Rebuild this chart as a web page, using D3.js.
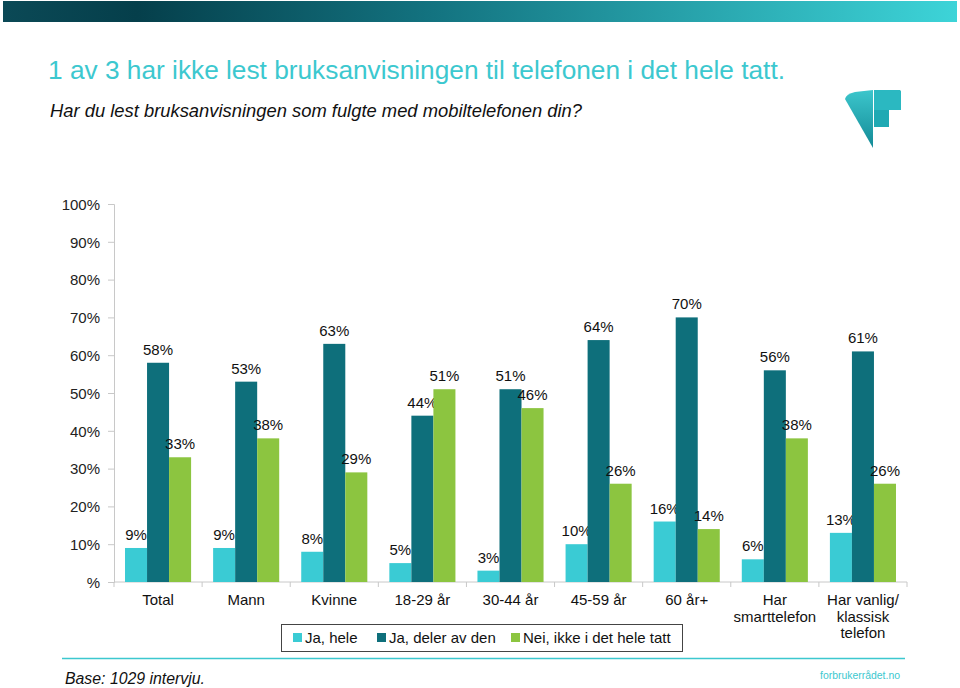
<!DOCTYPE html>
<html><head><meta charset="utf-8">
<script src="https://cdn.jsdelivr.net/npm/d3@7"></script>
<style>body{margin:0;background:#fff}svg{display:block}</style>
</head><body>
<svg id="c" width="960" height="688"></svg>
<script>
const categories = [["Total"],["Mann"],["Kvinne"],["18-29 år"],["30-44 år"],["45-59 år"],["60 år+"],["Har","smarttelefon"],["Har vanlig/","klassisk","telefon"]];
const seriesNames = ["Ja, hele","Ja, deler av den","Nei, ikke i det hele tatt"];
const jaHele = [9,9,8,5,3,10,16,6,13];
const jaDeler = [58,53,63,44,51,64,70,56,61];
const neiIkke = [33,38,29,51,46,26,14,38,26];
const yTicks = [0,10,20,30,40,50,60,70,80,90,100];
const colors = ["#3acbd4","#0e6f7b","#8cc540"];

const series = [jaHele, jaDeler, neiIkke];
const svg = d3.select("#c");
const font = "'Liberation Sans', Arial, sans-serif";

// banner
const defs = svg.append("defs");
const g1 = defs.append("linearGradient").attr("id","ban");
g1.append("stop").attr("offset","0%").attr("stop-color","#0b4956");
g1.append("stop").attr("offset","14%").attr("stop-color","#053f4b");
g1.append("stop").attr("offset","45%").attr("stop-color","#137380");
g1.append("stop").attr("offset","100%").attr("stop-color","#3dd4d8");
svg.append("rect").attr("x",3).attr("y",1).attr("width",954).attr("height",21).attr("fill","url(#ban)");

// title
svg.append("text").attr("x",48).attr("y",79).attr("font-family","'Liberation Sans Narrow', "+font)
  .attr("font-size",26).attr("fill","#3cc8cf").attr("textLength",737).attr("lengthAdjust","spacingAndGlyphs")
  .text("1 av 3 har ikke lest bruksanvisningen til telefonen i det hele tatt.");
svg.append("text").attr("x",50).attr("y",117).attr("font-family","'Liberation Sans Narrow', "+font)
  .attr("font-size",18).attr("font-style","italic").attr("fill","#111").attr("textLength",532).attr("lengthAdjust","spacingAndGlyphs")
  .text("Har du lest bruksanvisningen som fulgte med mobiltelefonen din?");

// logo
const g2 = defs.append("linearGradient").attr("id","logo").attr("x1","0").attr("y1","0").attr("x2","0").attr("y2","1");
g2.append("stop").attr("offset","0%").attr("stop-color","#3cc6cc");
g2.append("stop").attr("offset","100%").attr("stop-color","#138a96");
const lg = svg.append("g");
lg.append("path").attr("d","M845,99 Q846,94 855,92 L873,90 L873,148 Z").attr("fill","url(#logo)");
lg.append("path").attr("d","M874,90 L899,90 Q901,90 901,93 L901,110 L889,110 L889,127 L874,127 Z").attr("fill","#1fa9b3");
lg.append("path").attr("d","M874,90 L899,90 Q901,90 901,93 L901,110 L874,110 Z").attr("fill","#2bb8c1");

// chart
const x0 = 114, x1 = 907, yTop = 204, yBot = 582;
const x = d3.scaleBand().domain(d3.range(categories.length)).range([x0,x1]).paddingInner(0).paddingOuter(0);
const xs = d3.scaleBand().domain(d3.range(3)).range([0,x.bandwidth()]).paddingInner(0).paddingOuter(0.5);
const y = d3.scaleLinear().domain([0,100]).range([yBot,yTop]);

// y axis
const ya = svg.append("g").attr("transform",`translate(${x0},0)`)
  .call(d3.axisLeft(y).tickValues(yTicks).tickSize(6).tickPadding(8).tickFormat(d=> d===0 ? "%" : d+"%"));
ya.select(".domain").attr("stroke","#c8c8c8");
ya.selectAll(".tick line").attr("stroke","#c8c8c8");
ya.selectAll("text").attr("font-family",font).attr("font-size",15).attr("fill","#222").attr("dy","0.35em");

// x axis
const xa = svg.append("g").attr("transform",`translate(0,${yBot})`);
xa.append("line").attr("x1",x0).attr("x2",x1).attr("stroke","#c8c8c8");
xa.selectAll("line.t").data(d3.range(categories.length+1)).join("line").attr("class","t")
  .attr("x1",i=>x0+i*x.bandwidth()).attr("x2",i=>x0+i*x.bandwidth()).attr("y1",0).attr("y2",5).attr("stroke","#c8c8c8");
xa.selectAll("text.c").data(categories).join("text").attr("class","c")
  .attr("font-family",font).attr("font-size",15).attr("fill","#111").attr("text-anchor","middle")
  .attr("transform",(d,i)=>`translate(${x(i)+x.bandwidth()/2},23)`)
  .each(function(d){ const t=d3.select(this); d.forEach((l,j)=>t.append("tspan").attr("x",0).attr("y",j*16.5).text(l)); });

// bars
series.forEach((vals,s)=>{
  svg.append("g").selectAll("rect").data(vals).join("rect")
    .attr("x",(d,i)=>x(i)+xs(s)).attr("width",xs.bandwidth())
    .attr("y",d=>y(d)).attr("height",d=>yBot-y(d)).attr("fill",colors[s]);
  svg.append("g").selectAll("text").data(vals).join("text")
    .attr("x",(d,i)=>x(i)+xs(s)+xs.bandwidth()/2).attr("y",d=>y(d)-8)
    .attr("text-anchor","middle").attr("font-family",font).attr("font-size",15).attr("fill","#111")
    .text(d=>d+"%");
});

// legend
const leg = svg.append("g");
leg.append("rect").attr("x",281.5).attr("y",624.5).attr("width",401).attr("height",27).attr("fill","#fff").attr("stroke","#444");
const legX = [293,377,511];
seriesNames.forEach((n,i)=>{
  leg.append("rect").attr("x",legX[i]).attr("y",633).attr("width",9).attr("height",9).attr("fill",colors[i]);
  leg.append("text").attr("x",legX[i]+12).attr("y",643).attr("font-family",font).attr("font-size",15).attr("fill","#111").text(n);
});

// footer
svg.append("line").attr("x1",62).attr("x2",905).attr("y1",658.5).attr("y2",658.5).attr("stroke","#3cc8cf").attr("stroke-width",1.5);
svg.append("text").attr("x",65).attr("y",684).attr("font-family","'Liberation Sans Narrow', "+font).attr("font-size",16).attr("font-style","italic").attr("fill","#111")
  .attr("textLength",140).attr("lengthAdjust","spacingAndGlyphs").text("Base: 1029 intervju.");
svg.append("text").attr("x",820).attr("y",679).attr("font-family","'Liberation Sans Narrow', "+font).attr("font-size",11.5).attr("fill","#3cc8cf")
  .attr("textLength",80).attr("lengthAdjust","spacingAndGlyphs").text("forbrukerrådet.no");
</script>
</body></html>
